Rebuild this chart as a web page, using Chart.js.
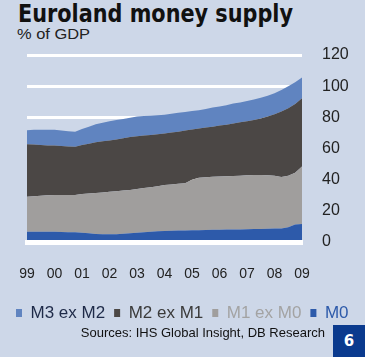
<!DOCTYPE html>
<html>
<head>
<meta charset="utf-8">
<script src="https://cdn.jsdelivr.net/npm/chart.js@4.4.1/dist/chart.umd.min.js"></script>
<style>
  html, body { margin: 0; padding: 0; }
  body { width: 365px; height: 357px; background: #cdd7e8; position: relative; overflow: hidden; font-family: "Liberation Sans", Arial, sans-serif; }
  #c { position: absolute; left: 0; top: 0; }
  #title { position: absolute; left: 18px; top: 2px; font-family: "DejaVu Sans", sans-serif; font-weight: bold; font-size: 24.5px; line-height: 24.5px; color: #111; white-space: nowrap; transform-origin: 0 0; }
  #sub { position: absolute; left: 17px; top: 26px; font-size: 15px; line-height: 15px; color: #222; white-space: nowrap; transform-origin: 0 0; }
  #src { position: absolute; right: 40px; top: 326px; font-size: 13px; line-height: 13px; color: #111; white-space: nowrap; }
  #num { position: absolute; left: 333px; top: 325px; width: 32px; height: 32px; background: #0a3a8e; color: #fff; font-family: "DejaVu Sans", sans-serif; font-weight: bold; font-size: 15px; line-height: 32px; text-align: center; }
</style>
</head>
<body>
<div id="title">Euroland money supply</div>
<div id="sub">% of GDP</div>
<canvas id="c" width="365" height="357"></canvas>
<div id="src">Sources: IHS Global Insight, DB Research</div>
<div id="num">6</div>
<script>
// Quarterly categories, 1999 Q1 – 2009 Q1
const quarters = [
  '1999Q1','1999Q2','1999Q3','1999Q4',
  '2000Q1','2000Q2','2000Q3','2000Q4',
  '2001Q1','2001Q2','2001Q3','2001Q4',
  '2002Q1','2002Q2','2002Q3','2002Q4',
  '2003Q1','2003Q2','2003Q3','2003Q4',
  '2004Q1','2004Q2','2004Q3','2004Q4',
  '2005Q1','2005Q2','2005Q3','2005Q4',
  '2006Q1','2006Q2','2006Q3','2006Q4',
  '2007Q1','2007Q2','2007Q3','2007Q4',
  '2008Q1','2008Q2','2008Q3','2008Q4',
  '2009Q1'
];
const yearLabels = ['99','00','01','02','03','04','05','06','07','08','09'];
const yTickValues = [0, 20, 40, 60, 80, 100, 120];

// Series values (% of GDP), stacked from the bottom
const m0 = [6.6,6.6,6.6,6.5,6.5,6.4,6.3,6.2,6.0,5.6,5.2,5.0,4.9,5.0,5.3,5.6,6.0,6.3,6.6,6.9,7.1,7.2,7.3,7.4,7.5,7.6,7.7,7.8,7.9,8.0,8.0,8.1,8.2,8.3,8.4,8.5,8.6,8.7,9.5,11.2,11.6];
const m1exM0 = [22.5,22.8,23.1,23.5,23.7,23.8,23.8,24.0,24.8,25.5,26.2,26.8,27.3,27.6,27.7,27.8,28.0,28.3,28.6,28.8,29.4,29.7,30.0,30.3,32.5,33.7,33.9,34.0,34.1,34.2,34.3,34.4,34.6,34.7,34.6,34.3,33.9,33.0,33.0,33.3,36.8];
const m2exM1 = [33.6,33.1,32.6,32.0,31.7,31.4,31.2,31.0,31.5,31.9,32.6,32.8,33.0,33.2,33.5,33.9,33.8,33.7,33.5,33.5,33.1,33.3,33.5,33.8,32.2,31.5,31.9,32.2,32.7,33.1,33.7,34.3,34.7,35.3,36.3,37.7,39.5,42.1,43.3,44.0,43.9];
const m3exM2 = [9.0,9.5,9.7,10.0,10.1,9.9,9.7,9.6,10.2,11.0,11.5,11.9,12.3,12.5,12.5,12.5,12.7,12.5,12.3,12.1,12.0,12.1,12.2,12.0,11.8,11.7,11.8,12.3,12.3,12.5,12.8,12.7,13.0,13.2,13.2,13.3,13.5,13.7,14.2,14.0,13.2];

const seriesNames = ['M0', 'M1 ex M0', 'M2 ex M1', 'M3 ex M2'];
const seriesColors = ['#2d5aaa', '#a09e9d', '#4b4745', '#6084c0'];
const legendTextColors = ['#2d5aaa', '#a3a3a3', '#3a3a3a', '#1e2a48'];

(function () {
  const t = document.getElementById('title');
  t.style.transform = 'scaleX(' + (275 / t.getBoundingClientRect().width) + ')';
  const s = document.getElementById('sub');
  s.style.transform = 'scaleX(' + (73 / s.getBoundingClientRect().width) + ')';
})();

const seriesData = [m0, m1exM0, m2exM1, m3exM2];
const datasets = seriesData.map((d, i) => ({
  label: seriesNames[i],
  data: d,
  backgroundColor: seriesColors[i],
  borderColor: seriesColors[i],
  borderWidth: 0,
  pointRadius: 0,
  fill: i === 0 ? 'origin' : '-1',
  tension: 0
}));

new Chart(document.getElementById('c'), {
  type: 'line',
  data: { labels: quarters, datasets },
  options: {
    responsive: false,
    animation: false,
    devicePixelRatio: 1,
    layout: { padding: { left: 7, right: 0, top: 55, bottom: 25.5 } },
    plugins: {
      tooltip: { enabled: false },
      legend: {
        position: 'bottom',
        align: 'start',
        reverse: true,
        labels: {
          boxWidth: 6,
          boxHeight: 8,
          padding: 9,
          font: { family: '"Liberation Sans", Arial, sans-serif', size: 17 },
          color: '#222',
          generateLabels(chart) {
            const items = Chart.defaults.plugins.legend.labels.generateLabels(chart);
            items.forEach(it => {
              it.fontColor = legendTextColors[it.datasetIndex];
              it.fillStyle = seriesColors[it.datasetIndex];
              it.lineWidth = 0;
              it.strokeStyle = 'rgba(0,0,0,0)';
            });
            return items;
          }
        }
      }
    },
    scales: {
      x: {
        grid: { display: false, drawTicks: false },
        border: { display: true, color: '#ffffff', width: 5, z: 1 },
        ticks: {
          autoSkip: false,
          maxRotation: 0,
          padding: 2,
          color: '#222',
          font: { family: '"Liberation Sans", Arial, sans-serif', size: 14, lineHeight: '60px' },
          callback: (v, i) => (i % 4 === 0 ? yearLabels[i / 4] : '')
        },
        afterFit: s => { s.height = 53.5; }
      },
      y: {
        position: 'right',
        stacked: true,
        min: 0,
        max: 120,
        grid: { color: '#ffffff', lineWidth: 3, drawTicks: false, z: -1 },
        border: { display: false },
        ticks: {
          stepSize: 20,
          padding: 20,
          color: '#222',
          font: { family: '"Liberation Sans", Arial, sans-serif', size: 16 },
          callback: v => (yTickValues.includes(v) ? String(v) : '')
        },
        afterFit: s => { s.width = 63; }
      },
      yL: {
        position: 'left',
        display: true,
        grid: { display: false, drawTicks: false },
        border: { display: false },
        ticks: { display: false },
        afterFit: s => { s.width = 20; }
      }
    }
  }
});
</script>
</body>
</html>
